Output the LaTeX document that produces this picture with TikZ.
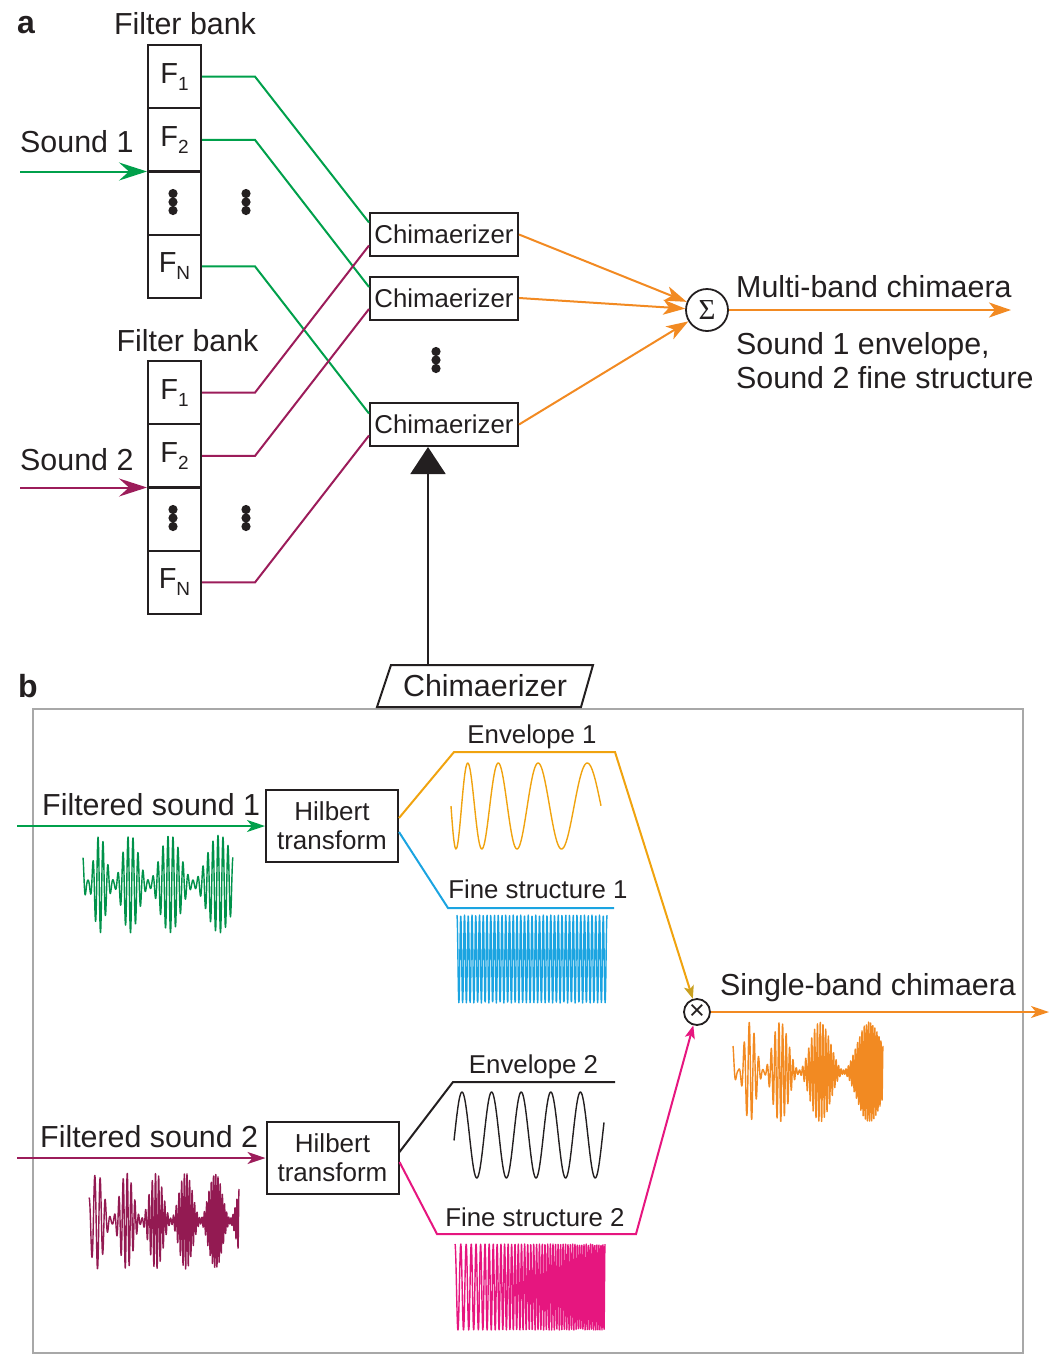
\documentclass[tikz,border=0pt]{standalone}
\usepackage{fontspec}
\setmainfont{Liberation Sans}
\newfontfamily\greekserif{Liberation Serif}
\usetikzlibrary{arrows.meta,calc}
\definecolor{ink}{HTML}{231F20}
\definecolor{sgreen}{HTML}{00A04B}
\definecolor{wgreen}{HTML}{00924A}
\definecolor{spurple}{HTML}{9C1C5A}
\definecolor{wpurple}{HTML}{931A52}
\definecolor{sorange}{HTML}{F28A22}
\definecolor{sgold}{HTML}{F0A30F}
\definecolor{sgolddark}{HTML}{C9A020}
\definecolor{sblue}{HTML}{1BA4E1}
\definecolor{spink}{HTML}{E6167F}
\definecolor{panelgray}{HTML}{A8A8A8}
\newcommand\txtBig{\fontsize{30.4}{34}\selectfont}
\newcommand\txtMid{\fontsize{25.8}{29}\selectfont}
\newcommand\txtSub{\fontsize{19}{19}\selectfont}
\newcommand\txtHead{\fontsize{32}{34}\selectfont\bfseries}
\begin{document}
\begin{tikzpicture}[x=1pt,y=-1pt,
  fbx/.style={draw=ink, line width=2pt, minimum width=53pt, minimum height=63.25pt, inner sep=0pt, font=\fontsize{29}{33}\selectfont, text=ink},
  chim/.style={draw=ink, line width=2pt, minimum width=148pt, minimum height=43pt, inner sep=0pt, font=\txtMid, text=ink},
  hilb/.style={draw=ink, line width=2pt, minimum width=132pt, minimum height=72pt, inner sep=0pt, align=center, font=\fontsize{26}{29}\selectfont, text=ink},
  lab/.style={font=\txtBig, text=ink, inner sep=0pt},
  slab/.style={font=\txtMid, text=ink, inner sep=0pt},
  head/.style={font=\txtHead, text=ink, inner sep=0pt},
  wire/.style={line width=2pt},
  wave/.style={line width=1.4pt, line join=round},
  bigarrow/.style={-{Stealth[length=28pt,width=18pt,inset=10pt]}},
  oarrow/.style={-{Stealth[length=22pt,width=15pt,inset=6pt]}},
  sarrow/.style={-{Stealth[length=18pt,width=12pt,inset=5pt]}},
  tarrow/.style={-{Stealth[length=13pt,width=10pt,inset=3pt]}},
  declare function={
    uA(\X)=1+(sqrt(88.74+4.668*\X)-9.42)/2.334;
    envA(\X)=0.5+0.5*sin(180*uA(\X));
    envB(\X)=0.5+0.5*sin(90+12.162*(\X-8));
    chirpB(\X)=cos(360*mod(\X/6+(\X/30)^2,1));
  },
  vd/.pic={\fill[ink] (0,-8.5) circle (4.6pt) (0,0) circle (4.6pt) (0,8.5) circle (4.6pt);}
]
\useasboundingbox (0,0) rectangle (1056,1366);

% ---------------- panel a ----------------
\node[head, anchor=base] (la) at (26,33) {a};
\node[lab, anchor=base] (fb1) at (185,34) {Filter bank};
\node[lab, anchor=base] (fb2) at (187.5,351) {Filter bank};
\node[lab, anchor=base west] (snd1) at (20,152) {Sound 1};
\node[lab, anchor=base west] (snd2) at (20,470) {Sound 2};

% filter bank 1
\node[fbx] (A1) at (174.5,76.6) {F\raisebox{-7pt}{\txtSub 1}};
\node[fbx] (A2) at (174.5,139.9) {F\raisebox{-7pt}{\txtSub 2}};
\node[fbx] (A3) at (174.5,203.1) {};
\node[fbx] (AN) at (174.5,266.4) {F\raisebox{-7pt}{\txtSub N}};
% filter bank 2
\node[fbx] (B1) at (174.5,392.6) {F\raisebox{-7pt}{\txtSub 1}};
\node[fbx] (B2) at (174.5,455.9) {F\raisebox{-7pt}{\txtSub 2}};
\node[fbx] (B3) at (174.5,519.1) {};
\node[fbx] (BN) at (174.5,582.4) {F\raisebox{-7pt}{\txtSub N}};

\pic at (173,202) {vd};
\pic at (246,202) {vd};
\pic at (173,518) {vd};
\pic at (246,518) {vd};
\pic at (436,360) {vd};

% chimaerizers
\node[chim] (C1) at (444,234.5) {Chimaerizer};
\node[chim] (C2) at (444,298) {Chimaerizer};
\node[chim] (C3) at (444,424.5) {Chimaerizer};

% sound inputs
\coordinate (s1) at (20,171.5);
\coordinate (s2) at (20,487.5);
\draw[wire, sgreen, bigarrow] (s1) -- (s1 -| A1.west);
\draw[wire, spurple, bigarrow] (s2) -- (s2 -| B1.west);

% wiring
\draw[wire, sgreen] (A1.east) -- ++(53,0) -- ([yshift=12pt]C1.west);
\draw[wire, sgreen] (A2.east) -- ++(53,0) -- ([yshift=11pt]C2.west);
\draw[wire, sgreen] (AN.east) -- ++(53,0) -- ([yshift=11pt]C3.west);
\draw[wire, spurple] (B1.east) -- ++(53,0) -- ([yshift=-11pt]C1.west);
\draw[wire, spurple] (B2.east) -- ++(53,0) -- ([yshift=-11pt]C2.west);
\draw[wire, spurple] (BN.east) -- ++(53,0) -- ([yshift=-11pt]C3.west);

% summation
\node[circle, draw=ink, line width=1.8pt, minimum size=42pt, inner sep=0pt, font=\greekserif\fontsize{29}{29}\selectfont, text=ink] (S) at (707,310) {Σ};
\draw[wire, sorange, oarrow] (C1.east) -- (S);
\draw[wire, sorange, oarrow] (C2.east) -- (S);
\draw[wire, sorange, oarrow] (C3.east) -- (S);
\coordinate (mout) at (1011,310);
\draw[wire, sorange, oarrow] (S.east) -- (mout);
\node[lab, anchor=base west] (mbc) at (736,297) {Multi-band chimaera};
\node[lab, anchor=base west] (se1) at (736,354) {Sound 1 envelope,};
\node[lab, anchor=base west] (se2) at (736,388) {Sound 2 fine structure};

% ---------------- panel b ----------------
\node[head, anchor=base] (lb) at (28,697) {b};
\draw[line width=2pt, panelgray] (33,709) rectangle (1023,1353);
\draw[line width=2pt, draw=ink, fill=white] (377,707) -- (391,665) -- (593,665) -- (581,707) -- cycle;
\node[lab] (P) at (485,686) {Chimaerizer};
\coordinate (ptop) at (428,665);
\draw[line width=2pt, ink, -{Triangle[length=27pt,width=35pt]}] (ptop) -- (ptop |- C3.south);

% Hilbert boxes
\node[hilb] (H1) at (332,826) {Hilbert\\transform};
\node[hilb] (H2) at (332.5,1158) {Hilbert\\transform};

\coordinate (in1) at (17,826);
\coordinate (in2) at (17,1158);
\draw[wire, sgreen, sarrow] (in1) -- (H1);
\draw[wire, spurple, sarrow] (in2) -- (H2);
\node[lab, anchor=base west] (fs1) at (42,815) {Filtered sound 1};
\node[lab, anchor=base west] (fs2) at (40,1147) {Filtered sound 2};

% product node
\node[circle, draw=ink, line width=1.8pt, minimum size=26pt, inner sep=0pt, font=\fontsize{27}{27}\selectfont, text=ink] (X) at (697,1012) {\raisebox{1pt}{×}};

% brackets
\draw[wire, sgold, -{Stealth[length=13pt,width=10pt,inset=3pt,color=sgolddark]}] ([yshift=8pt]H1.east) -- (454,752) -- (615,752) -- (X);
\draw[wire, sblue] ([yshift=-6pt]H1.east) -- (448,908) -- (614,908);
\draw[wire, ink] ([yshift=6pt]H2.east) -- (453,1082) -- (615,1082);
\draw[wire, spink, tarrow] ([yshift=-4pt]H2.east) -- (437,1234) -- (636,1234) -- (X);

\node[slab, anchor=base] (le1) at (532,743) {Envelope 1};
\node[slab, anchor=base] (lf1) at (538,898) {Fine structure 1};
\node[slab, anchor=base] (le2) at (533.5,1073) {Envelope 2};
\node[slab, anchor=base] (lf2) at (535,1226) {Fine structure 2};

\coordinate (sout) at (1049,1012);
\draw[wire, sorange, sarrow] (X) -- (sout);
\node[lab, anchor=base west] (sbc) at (720,995) {Single-band chimaera};

% waveforms
\draw[wave, sgold] plot[domain=0:150, samples=220, variable=\t] ({451+\t},{806-43*sin(180*uA(\t))});
\draw[wave, ink] plot[domain=0:150, samples=220, variable=\t] ({454+\t},{1135-43*sin(90+12.162*(\t-8))});
\draw[wave, sblue] plot[domain=0:150, samples=500, variable=\t] ({457+\t},{959-44*cos(360*mod(\t*0.26667,1))});
\draw[wave, spink] plot[domain=0:150, samples=800, variable=\t] ({455+\t},{1287-43*chirpB(\t)});
\draw[wave, wgreen] plot[domain=0:150, samples=600, variable=\t] ({83+\t},{884-49*(0.08+0.92*envA(\t))*cos(360*mod(\t/5,1))});
\draw[wave, wpurple] plot[domain=0:150, samples=800, variable=\t] ({89+\t},{1221-48*(0.06+0.94*envB(\t))*chirpB(\t)});
\draw[wave, sorange] plot[domain=0:150, samples=800, variable=\t] ({733+\t},{1072-50*(0.04+0.96*envA(\t))*chirpB(\t)});
\end{tikzpicture}
\end{document}
